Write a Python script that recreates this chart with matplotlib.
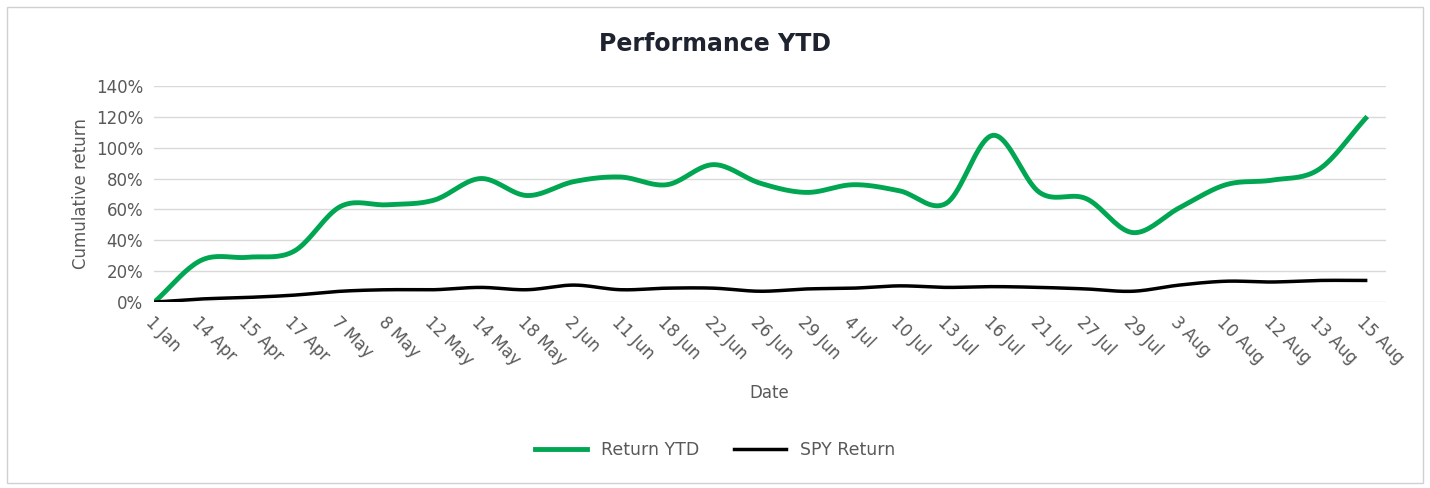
import matplotlib.pyplot as plt
import numpy as np
from matplotlib.patches import Rectangle

# Data
dates = ["1 Jan", "14 Apr", "15 Apr", "17 Apr", "7 May", "8 May", "12 May", "14 May",
         "18 May", "2 Jun", "11 Jun", "18 Jun", "22 Jun", "26 Jun", "29 Jun", "4 Jul",
         "10 Jul", "13 Jul", "16 Jul", "21 Jul", "27 Jul", "29 Jul", "3 Aug", "10 Aug",
         "12 Aug", "13 Aug", "15 Aug"]
return_ytd = [0, 27, 29, 33, 62, 63, 66, 80, 69, 78, 81, 76, 89, 77, 71, 76,
              72, 64, 108, 71, 67, 45, 61, 76, 79, 86, 119]
spy_return = [0, 2, 3, 4.5, 7, 8, 8, 9.5, 8, 11, 8, 9, 9, 7, 8.5, 9,
              10.5, 9.5, 10, 9.5, 8.5, 7, 11, 13.5, 13, 14, 14]


def smooth(y, n=20):
    # Catmull-Rom spline through the points, like Excel's smoothed line
    y = np.asarray(y, dtype=float)
    p = np.concatenate([[2 * y[0] - y[1]], y, [2 * y[-1] - y[-2]]])
    xs, ys = [], []
    for i in range(len(y) - 1):
        t = np.linspace(0, 1, n, endpoint=False)
        p0, p1, p2, p3 = p[i], p[i + 1], p[i + 2], p[i + 3]
        seg = 0.5 * (2 * p1 + (-p0 + p2) * t + (2 * p0 - 5 * p1 + 4 * p2 - p3) * t ** 2
                     + (-p0 + 3 * p1 - 3 * p2 + p3) * t ** 3)
        xs.append(i + t)
        ys.append(seg)
    xs.append([len(y) - 1])
    ys.append([y[-1]])
    return np.concatenate(xs), np.concatenate(ys)


fig = plt.figure(figsize=(14.3, 4.88), dpi=100)
fig.patches.append(Rectangle((0.005, 0.01), 0.99, 0.975, transform=fig.transFigure,
                             fill=False, edgecolor="#d0d0d0", linewidth=1))
ax = fig.add_axes([0.108, 0.381, 0.861, 0.443])

x, y = smooth(return_ytd)
ax.plot(x, y, color="#00a651", linewidth=3.5, label="Return YTD")
x, y = smooth(spy_return)
ax.plot(x, y, color="black", linewidth=2.5, label="SPY Return")

ax.set_xlim(0, 26.43)
ax.set_ylim(0, 140)
ax.set_yticks(range(0, 141, 20))
ax.set_yticklabels([f"{v}%" for v in range(0, 141, 20)], fontsize=12, color="#595959")
ax.set_xticks(range(len(dates)))
ax.set_xticklabels(dates, rotation=-45, ha="left", rotation_mode="anchor",
                   fontsize=12, color="#595959")
ax.tick_params(length=0, pad=8)
ax.grid(axis="y", color="#d9d9d9", linewidth=1)
ax.set_axisbelow(True)
for s in ax.spines.values():
    s.set_visible(False)

ax.set_ylabel("Cumulative return", fontsize=12, color="#595959")
fig.text(0.538, 0.195, "Date", fontsize=12, color="#595959", ha="center", va="center")
fig.text(0.5, 0.91, "Performance YTD", fontsize=17, fontweight="bold",
         color="#1f2330", ha="center", va="center")
fig.legend(loc="center", bbox_to_anchor=(0.5, 0.077), ncol=2, frameon=False,
           fontsize=12.5, handlelength=3, labelcolor="#595959")

plt.savefig("out.png", dpi=100)
